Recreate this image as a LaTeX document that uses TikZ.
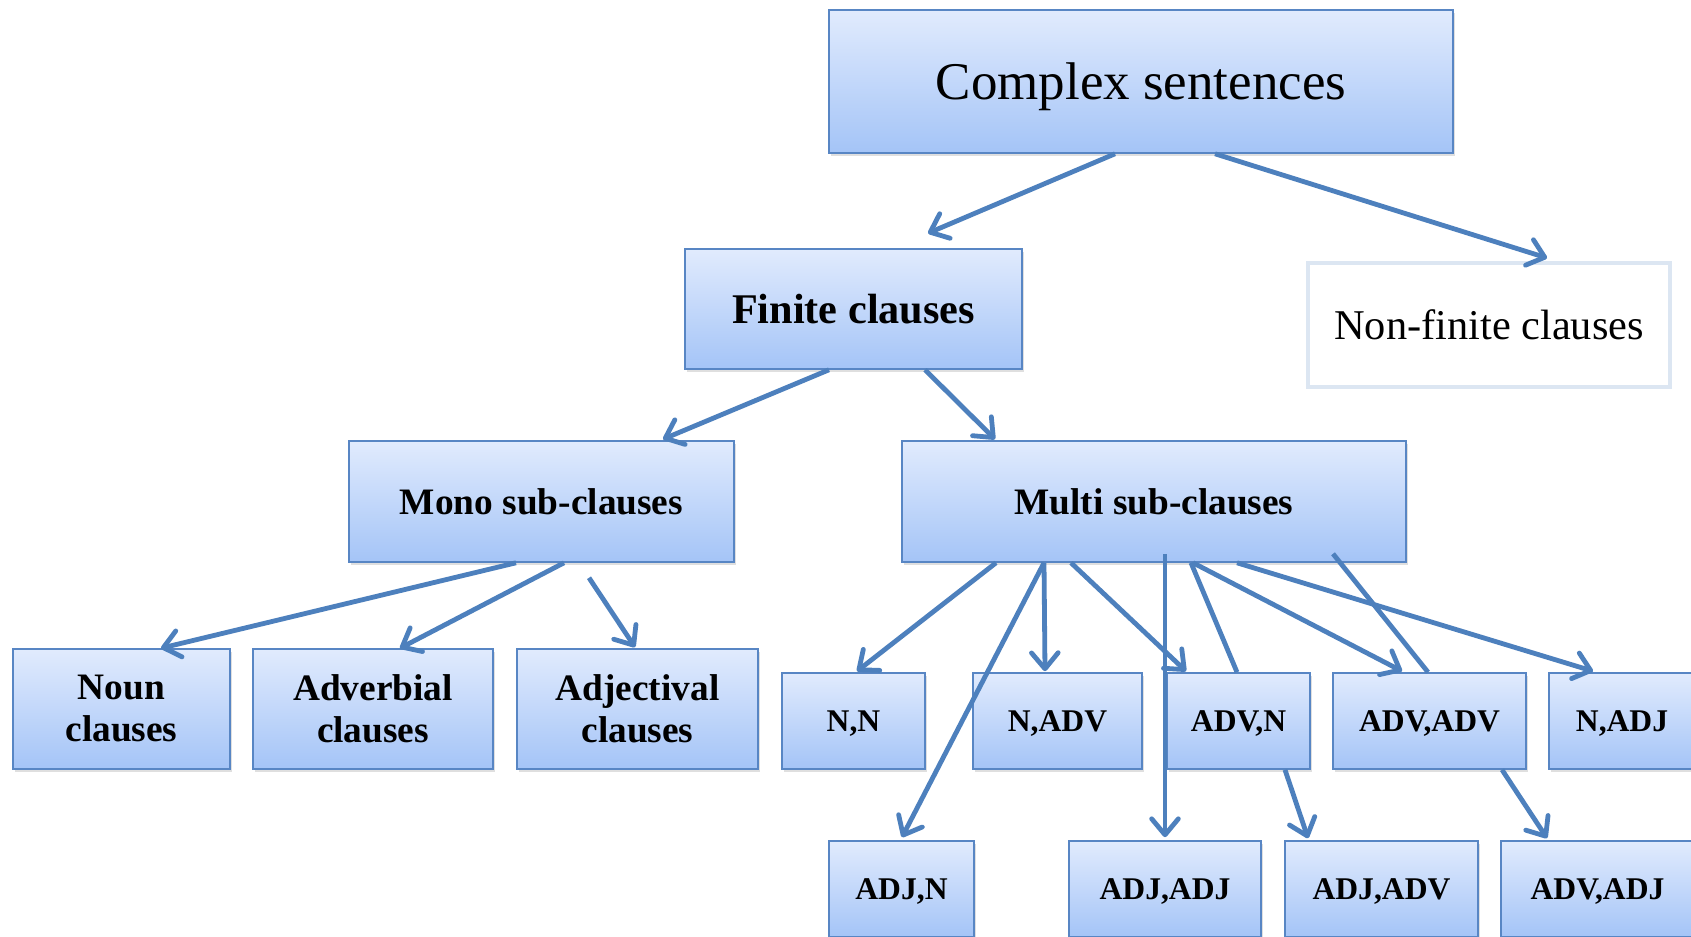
\documentclass[tikz,border=0pt]{standalone}
\usepackage{fontspec}
\setmainfont{Liberation Serif}
\usetikzlibrary{arrows.meta,calc,shadows}
\definecolor{boxtop}{RGB}{225,235,253}
\definecolor{boxbot}{RGB}{164,196,247}
\definecolor{boxline}{RGB}{88,134,196}
\definecolor{arrowc}{RGB}{77,128,189}
\definecolor{nfline}{RGB}{220,230,242}
\tikzset{
  bluebox/.style={draw=boxline, line width=1.2pt, top color=boxtop, bottom color=boxbot,
    inner sep=0pt, align=center,
    drop shadow={shadow xshift=1.2pt, shadow yshift=-2.2pt, opacity=0.25}},
  oneline/.style={text depth=0pt},
  whitebox/.style={draw=nfline, line width=3pt, fill=white, inner sep=0pt, align=center},
  fhuge/.style={font=\fontsize{39.75}{46}\selectfont, oneline},
  fbig/.style={font=\fontsize{31.7}{36}\bfseries\selectfont, oneline},
  fnf/.style={font=\fontsize{31.8}{36}\selectfont, oneline},
  fmid/.style={font=\fontsize{28}{31.5}\bfseries\selectfont},
  fsmall/.style={font=\fontsize{23.7}{27}\bfseries\selectfont, oneline},
  conn/.style={draw=arrowc, line width=3.6pt},
  arr/.style={conn, -{Straight Barb[round, length=12pt, width=20pt, line width=3.6pt]}}
}
\begin{document}
\begin{tikzpicture}[x=0.75pt,y=-0.75pt]
\path[use as bounding box, fill=white] (0,0) rectangle (1691,937);

% top levels
\node[bluebox, fhuge, minimum width=468pt, minimum height=107.25pt] (cs) at (1141,81.5) {Complex sentences};
\node[bluebox, fbig, minimum width=252.75pt, minimum height=90pt] (fin) at (853.5,309) {Finite clauses};
\node[whitebox, fnf, minimum width=271.5pt, minimum height=93pt] (nonfin) at (1489,325) {Non-finite clauses};
\node[bluebox, fmid, oneline, minimum width=288.75pt, minimum height=90.75pt] (mono) at (541.5,501.5) {Mono sub-clauses};
\node[bluebox, fmid, oneline, minimum width=378pt, minimum height=90.75pt] (multi) at (1154,501.5) {Multi sub-clauses};

% mono children
\node[bluebox, fmid, minimum width=162.75pt, minimum height=90pt] (noun) at (121.5,709) {Noun\\clauses};
\node[bluebox, fmid, minimum width=180pt, minimum height=90pt] (adverbial) at (373,709) {Adverbial\\clauses};
\node[bluebox, fmid, minimum width=180.75pt, minimum height=90pt] (adjectival) at (637.5,709) {Adjectival\\clauses};

% multi children, row 1
\node[bluebox, fsmall, minimum width=107.25pt, minimum height=72pt] (nn) at (853.5,721) {N,N};
\node[bluebox, fsmall, minimum width=126.75pt, minimum height=72pt] (nadv) at (1057.5,721) {N,ADV};
\node[bluebox, fsmall, minimum width=107.25pt, minimum height=72pt] (advn) at (1238.5,721) {ADV,N};
\node[bluebox, fsmall, minimum width=144.75pt, minimum height=72pt] (advadv) at (1429.5,721) {ADV,ADV};
\node[bluebox, fsmall, minimum width=109.5pt, minimum height=72pt] (nadj) at (1622,721) {N,ADJ};

% row 2
\node[bluebox, fsmall, minimum width=108.75pt, minimum height=72pt] (adjn) at (901.5,889) {ADJ,N};
\node[bluebox, fsmall, minimum width=144pt, minimum height=72pt] (adjadj) at (1165,889) {ADJ,ADJ};
\node[bluebox, fsmall, minimum width=144.75pt, minimum height=72pt] (adjadv) at (1381.5,889) {ADJ,ADV};
\node[bluebox, fsmall, minimum width=144.75pt, minimum height=72pt] (advadj) at (1597.5,889) {ADV,ADJ};

% connectors
\draw[arr] ($(cs.south)+(-26,0)$) -- ($(fin.north)+(74.5,-15)$);
\draw[arr] ($(cs.south)+(74,0)$) -- ($(nonfin.north)+(58,-3)$);
\draw[arr] ($(fin.south)+(-24.5,0)$) -- ($(mono.north)+(121.5,-1)$);
\draw[arr] ($(fin.south)+(71.5,0)$) -- ($(multi.north)+(-159,-1)$);

\draw[arr] ($(mono.south)+(-25.5,0)$) -- ($(noun.north)+(39.5,0)$);
\draw[arr] ($(mono.south)+(22.5,0)$) -- ($(adverbial.north)+(27,0)$);
\draw[arr] ($(mono.south)+(47.5,15)$) -- ($(adjectival.north)+(-2.5,-1)$);

\draw[arr] ($(multi.south)+(-158,0)$) -- ($(nn.north)+(3.5,-1)$);
\draw[arr] ($(multi.south)+(-110,0)$) -- ($(adjn.north)+(0.5,-3)$);
\draw[arr] ($(multi.south)+(-110,0)$) -- ($(nadv.north)+(-12.5,-1)$);
\draw[arr] ($(multi.south)+(-83,0)$) -- ($(advn.north)+(-52.5,-1)$);
\draw[arr] ($(multi.south)+(11,-9)$) -- ($(adjadj.north)+(0,-3)$);
\draw[conn] ($(multi.south)+(37,0)$) -- ($(advn.north)+(-1.5,0)$);
\draw[arr] ($(multi.south)+(39,0)$) -- ($(advadv.north)+(-27.5,-1)$);
\draw[arr] ($(multi.south)+(83,0)$) -- ($(nadj.north)+(-29,-1)$);
\draw[conn] ($(multi.south)+(179,-9)$) -- ($(advadv.north)+(-1.5,0)$);

\draw[arr] ($(advn.south)+(46.5,0)$) -- ($(adjadv.north)+(-73.5,-2)$);
\draw[arr] ($(advadv.south)+(72.5,0)$) -- ($(advadj.north)+(-50.5,-2)$);
\end{tikzpicture}
\end{document}
